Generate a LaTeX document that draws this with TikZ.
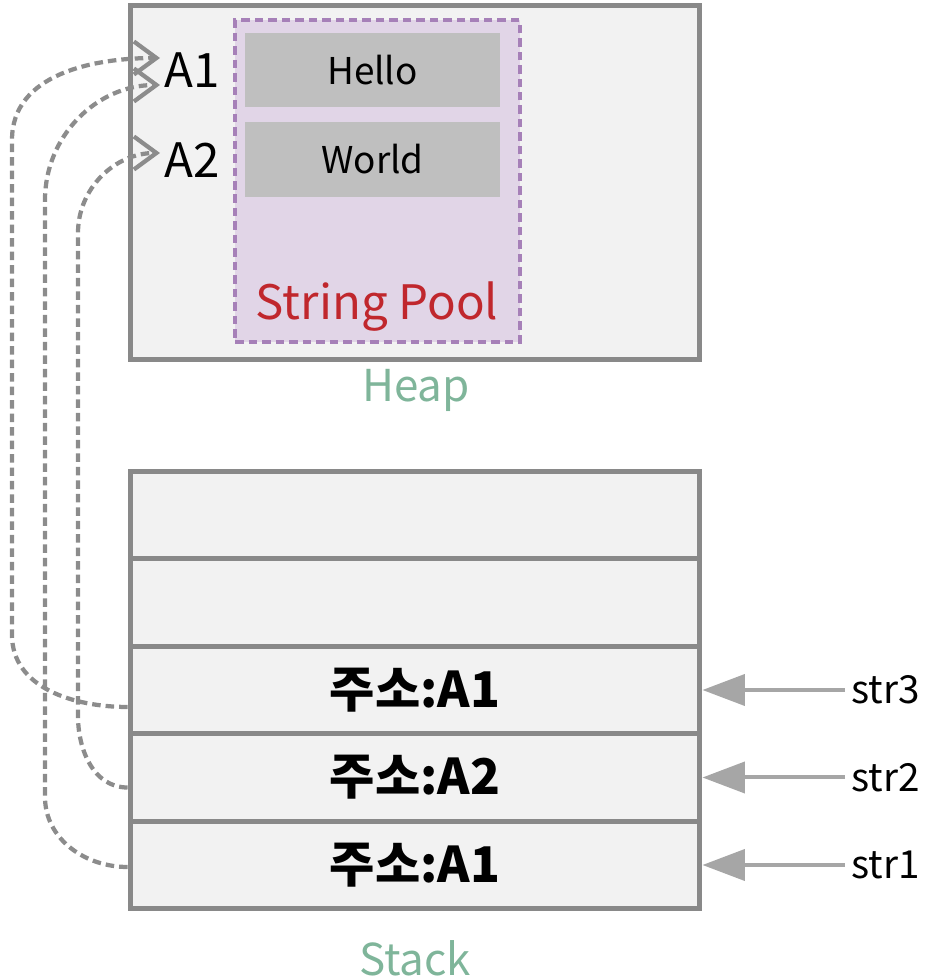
\documentclass[tikz,border=0pt]{standalone}
\usepackage{fontspec}
\newfontfamily\krfont{Noto Sans CJK KR}
\usetikzlibrary{arrows.meta}
\definecolor{boxfill}{HTML}{F2F2F2}
\definecolor{boxline}{HTML}{898989}
\definecolor{poolfill}{HTML}{E1D5E7}
\definecolor{poolline}{HTML}{A680B8}
\definecolor{cellfill}{HTML}{BFBFBF}
\definecolor{poolred}{HTML}{C0272D}
\definecolor{labgreen}{HTML}{7FB59A}
\definecolor{refgray}{HTML}{A6A6A6}
\definecolor{linkgray}{HTML}{8C8C8C}
\begin{document}
\begin{tikzpicture}[x=0.02cm,y=0.02cm]
        \tikzstyle{mem}=[draw=boxline,fill=boxfill,line width=0.1cm,minimum width=11.4cm,inner sep=0pt]
        \tikzstyle{row}=[mem,minimum height=1.75cm,font=\krfont\bfseries\fontsize{28}{30}\selectfont]
        \tikzstyle{cell}=[fill=cellfill,minimum width=5.1cm,minimum height=1.49cm,inner sep=0pt,font=\krfont\fontsize{21}{24}\selectfont]
        \tikzstyle{addr}=[font=\krfont\fontsize{27}{30}\selectfont]
        \tikzstyle{area}=[text=labgreen,font=\krfont\fontsize{25}{28}\selectfont]
        \tikzstyle{var}=[anchor=west,font=\krfont\fontsize{22}{24}\selectfont]
        \tikzstyle{ref}=[line width=0.08cm,draw=refgray,-{Triangle[length=0.85cm,width=0.62cm]}]
        \tikzstyle{link}=[line width=0.085cm,draw=linkgray,dash pattern=on 0.17cm off 0.1cm,-{Straight Barb[length=0.45cm,width=0.66cm,line width=0.085cm]}]

        \useasboundingbox (0,0) rectangle (936,980);

        \node (heap)[mem,minimum height=7.1cm] at (415,797.5) {};
        \node (pool)[draw=poolline,fill=poolfill,line width=0.08cm,dash pattern=on 0.17cm off 0.1cm,minimum width=5.7cm,minimum height=6.44cm,inner sep=0pt] at (377.5,799) {};
        \node (hello)[cell] at (372.5,910) {Hello};
        \node (world)[cell] at (372.5,820.5) {World};
        \node (poolname)[text=poolred,font=\krfont\fontsize{27}{30}\selectfont] at (377,673) {String Pool};
        \node (a1)[addr] at (192,910) {A1};
        \node (a2)[addr] at (192,820) {A2};
        \node (heapname)[area] at (416,590) {Heap};

        \node (r1)[row] at (415,465) {};
        \node (r2)[row] at (415,377.5) {};
        \node (r3)[row] at (415,290) {주소:A1};
        \node (r4)[row] at (415,202.5) {주소:A2};
        \node (r5)[row] at (415,115) {주소:A1};
        \node (stackname)[area] at (415,22) {Stack};

        \node (v3)[var] at (845,290) {str3};
        \node (v2)[var] at (845,202.5) {str2};
        \node (v1)[var] at (845,115) {str1};

        \draw[ref] (v3.west) -- (r3.east);
        \draw[ref] (v2.west) -- (r4.east);
        \draw[ref] (v1.west) -- (r5.east);

        \coordinate (in1) at (160,922);
        \coordinate (in2) at (160,895);
        \coordinate (in3) at (160,827);

        \draw[link] ([yshift=-0.34cm]r3.west) to[out=180,in=270] (12,345) -- (12,840) to[out=90,in=180] (in1);
        \draw[link] ([yshift=-0.04cm]r5.west) to[out=180,in=270] (45,183) -- (45,780) to[out=90,in=180] (in2);
        \draw[link] ([yshift=-0.2cm]r4.west) to[out=180,in=270] (78,264) -- (78,747) to[out=90,in=180] (in3);
    \end{tikzpicture}
\end{document}
